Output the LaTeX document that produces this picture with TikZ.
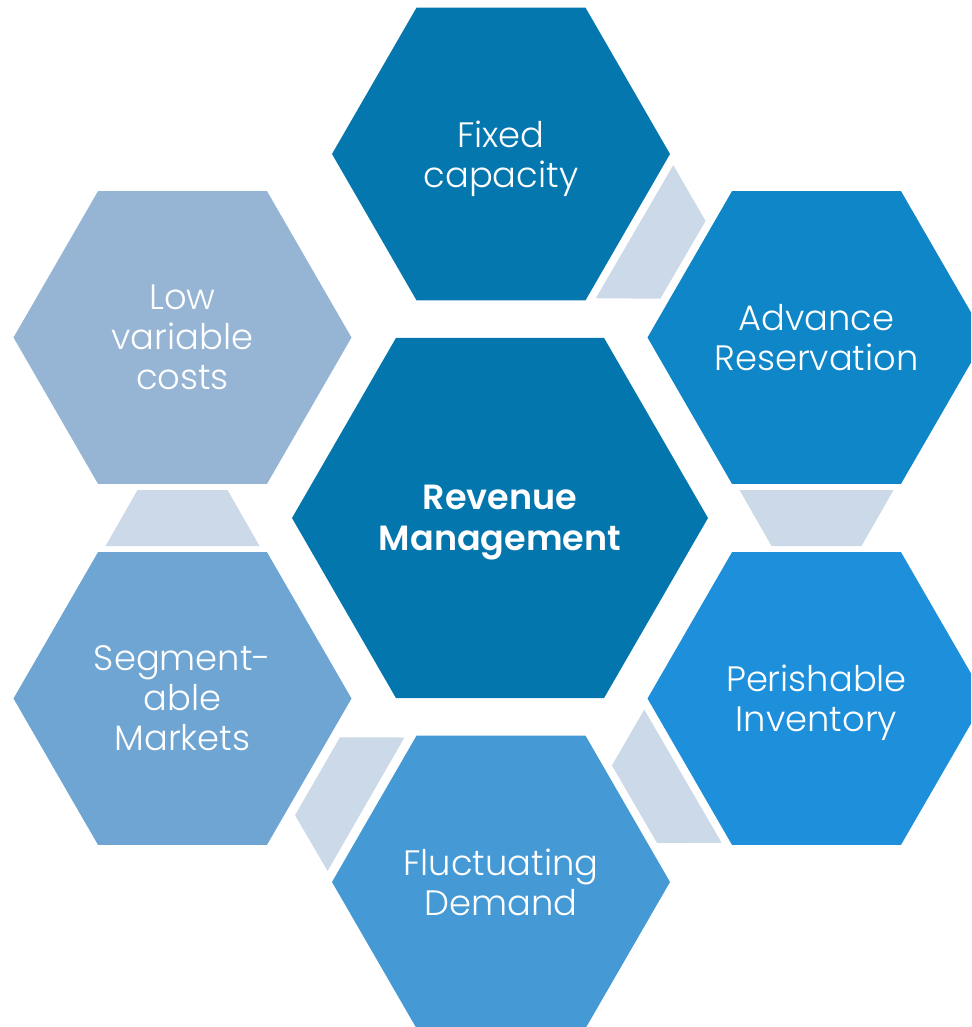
\documentclass[tikz,border=0pt]{standalone}
\usepackage{fontspec}
\setmainfont{Poppins Light}[BoldFont={Poppins SemiBold}]
\usetikzlibrary{shapes.geometric,calc}

\definecolor{cCore}{HTML}{0476AE}
\definecolor{cFixed}{HTML}{0577AF}
\definecolor{cAdvance}{HTML}{0E86C7}
\definecolor{cPerish}{HTML}{1E90DB}
\definecolor{cFluct}{HTML}{459AD6}
\definecolor{cSegment}{HTML}{6FA5D3}
\definecolor{cLow}{HTML}{96B4D4}
\definecolor{cGap}{HTML}{CBD9E8}

\tikzset{
  hexcell/.style={regular polygon, regular polygon sides=6, minimum size=338pt,
    inner sep=0pt, outer sep=0pt, text=white, align=center, text depth=0pt,
    font=\fontsize{35.3}{40}\selectfont},
  hexcore/.style={hexcell, minimum size=416pt, font=\fontsize{35}{41}\selectfont\bfseries},
  gapfill/.style={fill=cGap, draw=none}
}

% trapezoid linking two neighbouring cells: wide side at #1, narrow side at #2
\newcommand{\linkcells}[2]{%
  \path ($(#1)!0.5!(#2)$) coordinate (m);
  \path ($(m)!28pt!(#1)$) coordinate (p1) ($(m)!28pt!(#2)$) coordinate (p2);
  \fill[gapfill] ($(p1)!77pt!90:(#1)$) -- ($(p1)!77pt!-90:(#1)$)
    -- ($(p2)!45pt!90:(#2)$) -- ($(p2)!45pt!-90:(#2)$) -- cycle;
}

\begin{document}
\begin{tikzpicture}[x=1pt,y=-1pt]
\useasboundingbox (0,0) rectangle (971,1027);
\clip (0,0) rectangle (971,1027);

\node[hexcore, fill=cCore] (core) at (500,518) {Revenue\\Management};
\node[hexcell, fill=cFixed] (fixed) at (501,154) {Fixed\\capacity};
\node[hexcell, fill=cAdvance] (adv) at (816.5,337.5) {Advance\\Reservation};
\node[hexcell, fill=cPerish] (per) at (816.5,698.5) {Perishable\\Inventory};
\node[hexcell, fill=cFluct] (flu) at (501,882) {Fluctuating\\Demand};
\node[hexcell, fill=cSegment] (seg) at (182.5,698.5) {Segment-\\able\\Markets};
\node[hexcell, fill=cLow] (low) at (182.5,337.5) {Low\\variable\\costs};

\linkcells{fixed}{adv}
\linkcells{adv}{per}
\linkcells{per}{flu}
\linkcells{flu}{seg}
\linkcells{seg}{low}
\end{tikzpicture}
\end{document}
